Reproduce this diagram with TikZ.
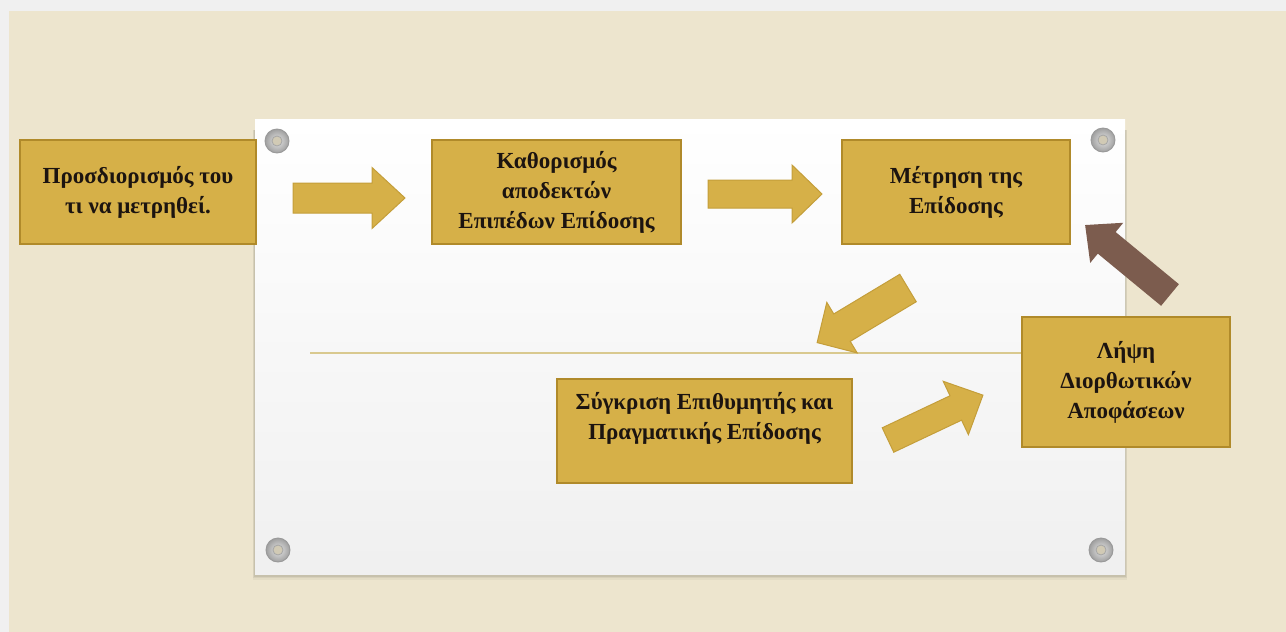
\documentclass[tikz,border=0pt]{standalone}
\usepackage{fontspec}
\setmainfont{Liberation Serif}
\usetikzlibrary{calc}

\definecolor{framegray}{RGB}{240,240,240}
\definecolor{canvas}{RGB}{237,229,206}
\definecolor{gold}{RGB}{214,176,72}
\definecolor{goldedge}{RGB}{176,138,42}
\definecolor{arrowedge}{RGB}{196,158,58}
\definecolor{brownarrow}{RGB}{124,92,78}
\definecolor{rule}{RGB}{217,201,143}
\definecolor{ink}{RGB}{28,20,16}

% block arrow: style, tail point, direction, length, shaft half width, head half width, head length
\newcommand\flowarrow[7]{%
  \path[#1, shift={#2}, rotate=#3]
    (0,-#5) -- ({#4-#7},-#5) -- ({#4-#7},-#6) -- (#4,0)
    -- ({#4-#7},#6) -- ({#4-#7},#5) -- (0,#5) -- cycle;}

\tikzset{
  box/.style={rectangle, fill=gold, draw=goldedge, line width=1.3pt,
    text=ink, align=center, inner sep=4pt,
    font=\bfseries\fontsize{23}{30}\selectfont},
  goldarrow/.style={fill=gold, draw=arrowedge, line width=1pt, line join=miter},
  brownfill/.style={fill=brownarrow},
  grommet/.style={circle, minimum size=24pt, inner sep=0pt,
    inner color=gray!20, outer color=gray!75, draw=gray!80, line width=0.9pt},
  grommethole/.style={circle, minimum size=10pt, inner sep=0pt,
    fill=black!12!canvas, draw=gray!70, line width=0.8pt}
}

\begin{document}
\begin{tikzpicture}[x=1pt, y=-1pt]
  \useasboundingbox (0,0) rectangle (1286,632);

  % frame and canvas background
  \fill[framegray] (0,0) rectangle (1286,632);
  \fill[canvas] (9,11) rectangle (1286,632);

  % soft shadow falling below the paper sheet
  \foreach \d/\o in {6/0.04, 4/0.05, 2.5/0.07, 1/0.09}
    \fill[black, opacity=\o] (255-0.4*\d,130) rectangle (1125+0.4*\d,574+\d);

  % paper sheet
  \shade[top color=white, bottom color=black!6] (255,119) rectangle (1125,574);

  % grommets in the corners
  \foreach \n/\px/\py in {p1/277/141, p2/1103/140, p3/278/550, p4/1101/550} {
    \node[grommet] (\n) at (\px,\py) {};
    \node[grommethole] at (\n.center) {};
  }

  % divider line
  \coordinate (ruleL) at (310,353);
  \coordinate (ruleR) at (1022,353);
  \draw[rule, line width=1.4pt] (ruleL) -- (ruleR);

  % process boxes
  \node[box, minimum width=236pt, minimum height=104pt] (b1) at (138,192)
    {Προσδιορισμός του\\τι να μετρηθεί.};
  \node[box, minimum width=249pt, minimum height=104pt] (b2) at (556.5,192)
    {Καθορισμός\\αποδεκτών\\Επιπέδων Επίδοσης};
  \node[box, minimum width=228pt, minimum height=104pt] (b3) at (956,192)
    {Μέτρηση της\\Επίδοσης};
  \node[box, minimum width=295pt, minimum height=104pt] (b4) at (704.5,431)
    {Σύγκριση Επιθυμητής και\\Πραγματικής Επίδοσης\\[0pt]\mbox{}};
  \node[box, minimum width=208pt, minimum height=130pt] (b5) at (1126,382)
    {Λήψη\\Διορθωτικών\\Αποφάσεων};

  % block arrows between the steps
  \coordinate (t1) at (293,198);
  \coordinate (t2) at (708,194);
  \coordinate (t3) at (908,288);
  \coordinate (t4) at (888,440);
  \coordinate (t5) at (1170,295);
  \flowarrow{goldarrow}{(t1)}{0}{112}{15}{30.5}{33}
  \flowarrow{goldarrow}{(t2)}{0}{114}{14}{29}{30}
  \flowarrow{goldarrow}{(t3)}{211}{106}{16}{29.5}{29}
  \flowarrow{goldarrow}{(t4)}{25.3}{105}{13.5}{29.5}{30}
  \flowarrow{brownfill}{(t5)}{140.5}{110}{14}{26}{28}
\end{tikzpicture}
\end{document}
